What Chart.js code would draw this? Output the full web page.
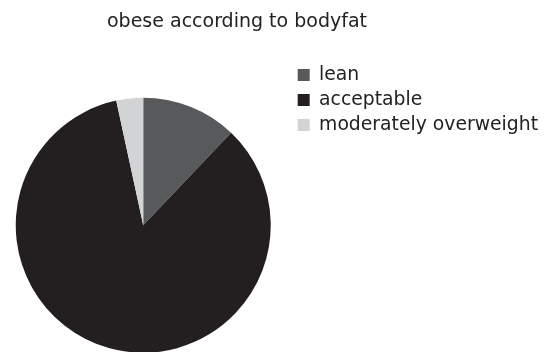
<!DOCTYPE html>
<html>
<head>
<meta charset="utf-8">
<title>obese according to bodyfat</title>
<script src="https://cdn.jsdelivr.net/npm/chart.js@4/dist/chart.umd.min.js"></script>
<style>
    html, body { margin: 0; padding: 0; background: #fff; }
    /* the pie runs past the bottom edge, so the canvas is taller and clipped */
    #wrap { position: relative; width: 549px; height: 352px; overflow: hidden; }
    #chartTitle {
        position: absolute; left: 0; top: 11px; width: 474px;
        text-align: center; font-family: "DejaVu Sans", sans-serif;
        font-size: 19px; line-height: 19px; color: #222;
    }
    #chartCanvas { position: absolute; left: -5px; top: 0; }
</style>
</head>
<body>
<div id="wrap">
    <canvas id="chartCanvas" width="553" height="391"></canvas>
    <div id="chartTitle">obese according to bodyfat</div>
</div>
<script>
"use strict";

// share of men in each bodyfat class (%)
const labels = ['lean', 'acceptable', 'moderately overweight'];
const shares = [12.1, 84.5, 3.4];
const colors = ['#58595b', '#231f20', '#d1d3d4'];

const ctx = document.getElementById('chartCanvas');

const data = {
    labels: labels,
    datasets: [{
        data: shares,
        backgroundColor: colors,
        borderColor: colors,
        borderWidth: 0,
        hoverOffset: 0
    }]
};

const config = {
    type: 'pie',
    data: data,
    options: {
        responsive: false,
        animation: false,
        devicePixelRatio: 1,
        radius: 127.5,
        layout: {
            padding: { left: 0, right: 0, top: 59.4, bottom: 0 }
        },
        plugins: {
            title: { display: false },
            tooltip: { enabled: false },
            legend: {
                position: 'right',
                align: 'start',
                labels: {
                    boxWidth: 12,
                    boxHeight: 12,
                    padding: 6.2,
                    color: '#222',
                    font: { family: 'DejaVu Sans', size: 18.8 }
                }
            }
        }
    }
};

new Chart(ctx, config);
</script>
</body>
</html>
